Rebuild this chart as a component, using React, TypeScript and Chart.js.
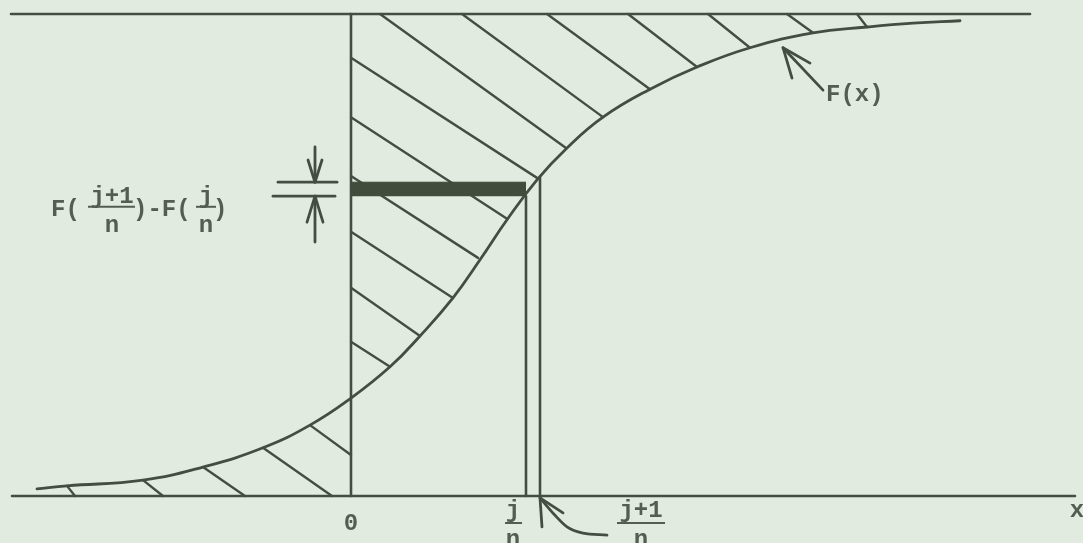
import React, { useEffect, useRef } from "react";
import { Chart, registerables } from "chart.js";

Chart.register(...registerables);

// Distribution function F(x): abscissa in units where 0 is the origin, ordinate 0..1
const curveX = [-3.14, -2.84, -2.08, -1.48, -0.88, -0.41, 0, 0.39, 0.69, 1.02, 1.29, 1.56, 1.86, 2.16, 2.52, 2.99, 3.46, 3.99, 4.62, 5.16, 5.62, 6.09];
const curveF = [0.015, 0.021, 0.033, 0.06, 0.1, 0.147, 0.203, 0.268, 0.332, 0.411, 0.49, 0.573, 0.656, 0.722, 0.786, 0.844, 0.89, 0.93, 0.961, 0.973, 0.981, 0.986];

// Grid points i/n and (i+1)/n and the function values there
const iOverN = 1.75;
const iPlus1OverN = 1.89;
const F_i = 0.622;
const F_i1 = 0.651;
const topOfIPlus1Line = 0.662;

// Horizontal limits of the lines y = 1 and y = 0
const upperLineX = [-3.4, 6.79];
const lowerLineX = [-3.39, 7.24];

// Hatching above the curve (right of 0) and below it (left of 0): [x1, y1, x2, y2]
const hatchUpper: number[][] = [
  [0, 0.909, 1.86, 0.66],
  [0, 0.786, 1.56, 0.575],
  [0, 0.664, 1.27, 0.494],
  [0, 0.548, 1.02, 0.411],
  [0, 0.432, 0.69, 0.332],
  [0, 0.32, 0.39, 0.268],
  [0.29, 1, 2.15, 0.722],
  [1.11, 1, 2.52, 0.786],
  [1.96, 1, 2.99, 0.844],
  [2.77, 1, 3.46, 0.89],
  [3.57, 1, 3.99, 0.93],
  [4.36, 1, 4.62, 0.961],
  [5.06, 1, 5.16, 0.973],
];
const hatchLower: number[][] = [
  [-2.84, 0.021, -2.76, 0],
  [-2.08, 0.033, -1.88, 0],
  [-1.48, 0.06, -1.06, 0],
  [-0.88, 0.1, -0.19, 0],
  [-0.41, 0.147, 0, 0.085],
];

// Annotation arrows (polylines in chart units)
const arrowDown: number[][][] = [
  [[-0.36, 0.724], [-0.36, F_i1]],
  [[-0.43, 0.697], [-0.36, F_i1], [-0.29, 0.697]],
];
const arrowUp: number[][][] = [
  [[-0.36, 0.527], [-0.36, F_i]],
  [[-0.44, 0.568], [-0.36, F_i], [-0.28, 0.568]],
];
const ticksLeft: number[][][] = [
  [[-0.73, F_i1], [-0.14, F_i1]],
  [[-0.78, F_i], [-0.16, F_i]],
];
const arrowFx: number[][][] = [
  [[4.32, 0.93], [4.72, 0.842]],
  [[4.59, 0.898], [4.32, 0.93], [4.41, 0.867]],
];
const arrowBottomHead: number[][] = [[2.12, -0.035], [1.89, -0.004], [1.91, -0.064]];
const arrowBottomTail: number[][] = [[1.89, -0.004], [2.04, -0.04], [2.16, -0.064], [2.32, -0.077], [2.56, -0.081]];

// Text labels
const labelItems = [
  { text: "F(", x: -3.0, y: 0.593, align: "left" },
  { text: "j+1", x: -2.39, y: 0.62, align: "center" },
  { text: "n", x: -2.39, y: 0.56, align: "center" },
  { text: ")-F(", x: -2.18, y: 0.593, align: "left" },
  { text: "j", x: -1.45, y: 0.62, align: "center" },
  { text: "n", x: -1.45, y: 0.56, align: "center" },
  { text: ")", x: -1.38, y: 0.593, align: "left" },
  { text: "0", x: 0, y: -0.058, align: "center" },
  { text: "j", x: 1.62, y: -0.03, align: "center" },
  { text: "n", x: 1.62, y: -0.092, align: "center" },
  { text: "j+1", x: 2.9, y: -0.03, align: "center" },
  { text: "n", x: 2.9, y: -0.092, align: "center" },
  { text: "F(x)", x: 4.75, y: 0.832, align: "left" },
  { text: "x", x: 7.26, y: -0.03, align: "center" },
];
const fractionBars: number[][] = [
  [-2.63, -2.16, 0.6],
  [-1.55, -1.35, 0.6],
  [1.54, 1.71, -0.056],
  [2.66, 3.14, -0.056],
];

const X_MIN = -3.51;
const X_MAX = 7.32;
const Y_MIN = -0.0975;
const Y_MAX = 1.029;

const INK = "rgb(68,78,64)";
const TEXT_INK = "rgb(84,94,80)";
const PAPER = "rgb(226,235,223)";

const pts = (arr: number[][]) => arr.map(([x, y]) => ({ x, y }));

function lineSet(points: { x: number; y: number }[], width: number, order: number, tension = 0): any {
  return {
    type: "line",
    data: points,
    borderColor: INK,
    borderWidth: width,
    pointRadius: 0,
    fill: false,
    tension,
    order,
    clip: false,
    borderCapStyle: "round",
    borderJoinStyle: "round",
  };
}

const textPlugin = {
  id: "diagramText",
  afterDatasetsDraw(chart: any) {
    const { ctx, scales } = chart;
    const sx = scales.x;
    const sy = scales.y;
    ctx.save();
    ctx.fillStyle = TEXT_INK;
    ctx.strokeStyle = TEXT_INK;
    ctx.font = 'bold 24px "Liberation Mono", "DejaVu Sans Mono", monospace';
    ctx.textBaseline = "middle";
    for (const item of labelItems) {
      ctx.textAlign = item.align;
      ctx.fillText(item.text, sx.getPixelForValue(item.x), sy.getPixelForValue(item.y));
    }
    ctx.lineWidth = 2;
    for (const [x1, x2, y] of fractionBars) {
      ctx.beginPath();
      ctx.moveTo(sx.getPixelForValue(x1), sy.getPixelForValue(y));
      ctx.lineTo(sx.getPixelForValue(x2), sy.getPixelForValue(y));
      ctx.stroke();
    }
    ctx.restore();
  },
};

export default function App() {
  const canvasRef = useRef<HTMLCanvasElement | null>(null);

  useEffect(() => {
    document.body.style.margin = "0";
    document.body.style.background = PAPER;
    const canvas = canvasRef.current;
    if (!canvas) return;

    const datasets: any[] = [];
    // thick band between F(i/n) and F((i+1)/n)
    datasets.push({
      type: "line",
      data: pts([[0, F_i1], [iOverN, F_i1]]),
      borderColor: "rgb(60,70,56)",
      borderWidth: 1,
      backgroundColor: "rgb(66,76,60)",
      fill: { value: F_i },
      pointRadius: 0,
      order: 0,
      clip: false,
    });
    // the distribution curve, drawn as a smooth spline through the read points
    datasets.push(lineSet(curveX.map((x, i) => ({ x, y: curveF[i] })), 2.8, 1, 0.45));
    datasets.push(lineSet(pts([[upperLineX[0], 1], [upperLineX[1], 1]]), 2.6, 2));
    datasets.push(lineSet(pts([[lowerLineX[0], 0], [lowerLineX[1], 0]]), 2.6, 2));
    datasets.push(lineSet(pts([[0, 0], [0, 1]]), 2.6, 2));
    datasets.push(lineSet(pts([[iOverN, 0], [iOverN, F_i]]), 2.6, 2));
    datasets.push(lineSet(pts([[iPlus1OverN, 0], [iPlus1OverN, topOfIPlus1Line]]), 2.6, 2));
    for (const [x1, y1, x2, y2] of [...hatchUpper, ...hatchLower]) {
      datasets.push(lineSet(pts([[x1, y1], [x2, y2]]), 2.4, 3));
    }
    for (const poly of [...arrowDown, ...arrowUp, ...ticksLeft, ...arrowFx]) {
      datasets.push(lineSet(pts(poly), 2.8, 2));
    }
    datasets.push(lineSet(pts(arrowBottomHead), 2.8, 2));
    const tail = lineSet(pts(arrowBottomTail), 2.8, 2, 0.4);
    tail.cubicInterpolationMode = "monotone";
    datasets.push(tail);

    const chart = new Chart(canvas, {
      type: "line",
      data: { datasets },
      options: {
        animation: false,
        responsive: false,
        events: [],
        layout: { padding: 0 },
        scales: {
          x: { type: "linear", min: X_MIN, max: X_MAX, display: false },
          y: { type: "linear", min: Y_MIN, max: Y_MAX, display: false },
        },
        plugins: {
          legend: { display: false },
          tooltip: { enabled: false },
        },
      } as any,
      plugins: [textPlugin as any],
    });
    return () => chart.destroy();
  }, []);

  return (
    <div style={{ position: "fixed", left: 0, top: 0, width: 1083, height: 543, background: PAPER }}>
      <canvas ref={canvasRef} width={1083} height={543} style={{ display: "block" }} />
    </div>
  );
}
